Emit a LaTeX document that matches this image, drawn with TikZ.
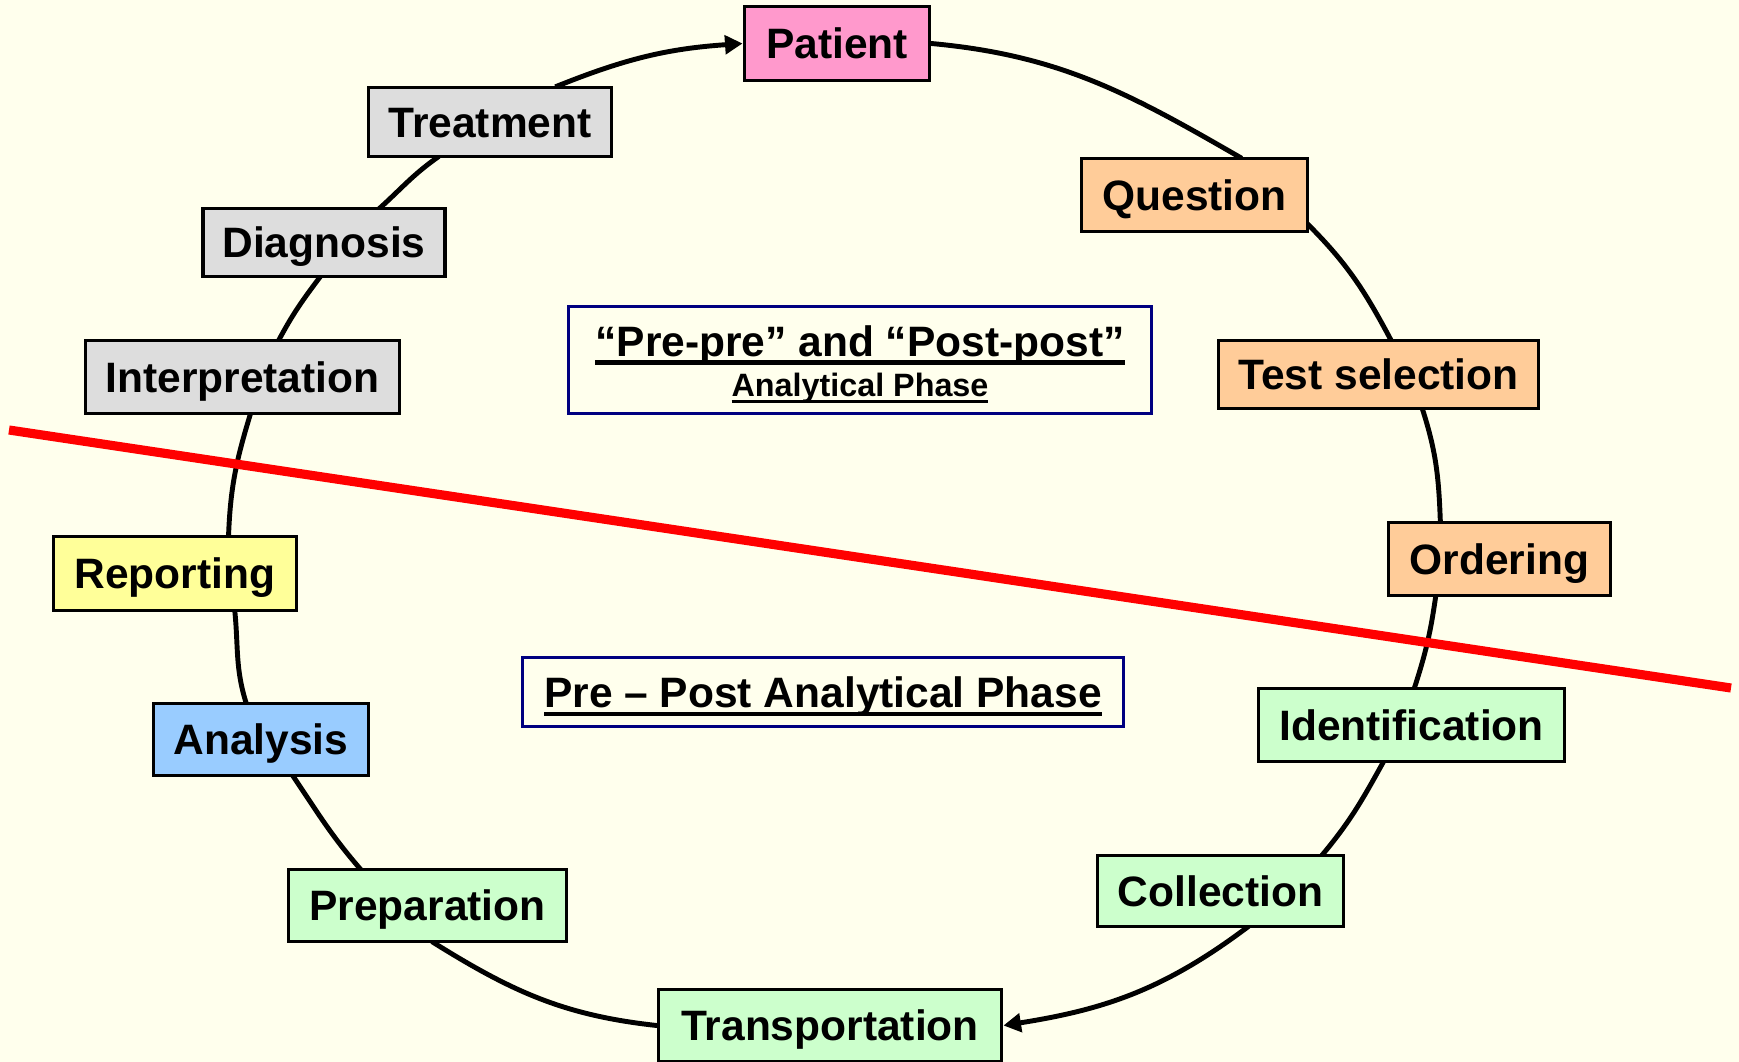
\documentclass[tikz,border=0pt]{standalone}
\usepackage{fontspec}
\setmainfont{Liberation Sans}
\usetikzlibrary{arrows.meta}

\definecolor{paper}{HTML}{FFFFED}
\definecolor{pinkfill}{HTML}{FF99CC}
\definecolor{greyfill}{HTML}{DDDDDD}
\definecolor{peachfill}{HTML}{FFCC99}
\definecolor{yellowfill}{HTML}{FFFF99}
\definecolor{bluefill}{HTML}{99CCFF}
\definecolor{greenfill}{HTML}{CCFFCC}
\definecolor{navyline}{HTML}{000080}
\definecolor{cutred}{HTML}{FF0000}

\pgfdeclarelayer{paperlayer}
\pgfdeclarelayer{ringlayer}
\pgfsetlayers{paperlayer,ringlayer,main}

% thick underline that runs through descenders
\newsavebox\ulbox
\newcommand\thickul[1]{\sbox\ulbox{#1}\rlap{\rule[-0.2em]{\wd\ulbox}{0.095em}}\usebox\ulbox}

\begin{document}
\begin{tikzpicture}[x=0.02cm, y=0.02cm,
  labelfont/.style={font=\fontsize{24.2pt}{28pt}\selectfont\bfseries},
  stage/.style={draw=black, line width=2.2pt, rectangle, inner sep=0pt,
    labelfont, text height=17.3pt, text depth=0pt},
  wh/.style 2 args={minimum width=#1*0.02cm, minimum height=#2*0.02cm},
  ring/.style={line width=2.8pt, shorten <=-2pt},
  ringlink/.style={ring, shorten >=-2pt},
  ringarrow/.style={ring, -{Triangle[length=10pt,width=10.5pt]}},
  phasebox/.style={draw=navyline, line width=1.8pt, fill=paper, rectangle, inner sep=0pt},
  cutline/.style={draw=cutred, line width=5.2pt}
]
\begin{pgfonlayer}{paperlayer}
  \fill[paper] (0,0) rectangle (1739,-1062);
\end{pgfonlayer}
\path[use as bounding box] (0,0) rectangle (1739,-1062);

% stages of the cycle
\node[stage, fill=pinkfill,   wh={185}{74}] (p)      at (837,-43.5)    {Patient};
\node[stage, fill=peachfill,  wh={226}{73}] (q)      at (1194.5,-195)  {Question};
\node[stage, fill=peachfill,  wh={320}{68}] (ts)     at (1378.5,-374.5){Test selection};
\node[stage, fill=peachfill,  wh={222}{73}] (o)      at (1499.5,-559)  {Ordering};
\node[stage, fill=greenfill,  wh={306}{73}] (id)     at (1411.5,-725)  {Identification};
\node[stage, fill=greenfill,  wh={246}{71}] (co)     at (1220.5,-891)  {Collection};
\node[stage, fill=greenfill,  wh={343}{72}] (tr)     at (830,-1025.5)  {Transportation};
\node[stage, fill=greenfill,  wh={278}{72}] (pr)     at (427.5,-905.5) {Preparation};
\node[stage, fill=bluefill,   wh={215}{72}] (an)     at (261,-739.5)   {Analysis};
\node[stage, fill=yellowfill, wh={243}{74}] (re)     at (175,-573.5)   {Reporting};
\node[stage, fill=greyfill,   wh={314}{73}] (interp) at (242.5,-377)   {Interpretation};
\node[stage, fill=greyfill,   wh={242}{68}] (di)     at (324,-242.5)   {Diagnosis};
\node[stage, fill=greyfill,   wh={243}{69}] (trt)    at (490,-122)     {Treatment};

% phase boxes
\node[phasebox, wh={583}{107}] (pp) at (860,-360) {};
\node[labelfont, anchor=base, inner sep=0pt] (pptitle) at ([yshift=0.08cm]pp.center)
  {\thickul{“Pre-pre” and “Post-post”}};
\node[font=\fontsize{18.4pt}{21pt}\selectfont\bfseries, anchor=base, inner sep=0pt] (ppsub)
  at ([yshift=-0.74cm]pp.center) {\thickul{Analytical Phase}};
\node[phasebox, labelfont, text height=17.3pt, text depth=0pt, wh={601}{69}] (prp)
  at (823,-692) {\thickul{Pre – Post Analytical Phase}};

% the cycle, clockwise
\begin{pgfonlayer}{ringlayer}
\draw[ringlink]  (p.east)    to[out=-5,in=150]   (q.41);
\draw[ringlink]  (q.-15)     to[out=-45,in=118]  (ts.72);
\draw[ringlink]  (ts.-39)    to[out=-72,in=92]   (o.147);
\draw[ringlink]  (o.211)     to[out=-98,in=72]   (id.85);
\draw[ringlink]  (id.233)    to[out=-119,in=50]  (co.20);
\draw[ringarrow] (co.-56)    to[out=-143,in=9]   (tr.east);
\draw[ringlink]  (tr.west)   to[out=174,in=-32]  (pr.-79);
\draw[ringlink]  (pr.151)    to[out=131,in=-56]  (an.-49);
\draw[ringlink]  (an.112)    to[out=108,in=-84]  (re.-33);
\draw[ringlink]  (re.36)     to[out=88,in=-107]  (interp.-79);
\draw[ringlink]  (interp.46) to[out=62,in=-127]  (di.262);
\draw[ringlink]  (di.32)     to[out=42,in=-145]  (trt.214);
\draw[ringarrow] (trt.28)    to[out=22,in=-176]  (p.west);
\end{pgfonlayer}

% dividing line
\coordinate (cutL) at (9,-430);
\coordinate (cutR) at (1731,-688);
\draw[cutline] (cutL) -- (cutR);
\end{tikzpicture}
\end{document}
